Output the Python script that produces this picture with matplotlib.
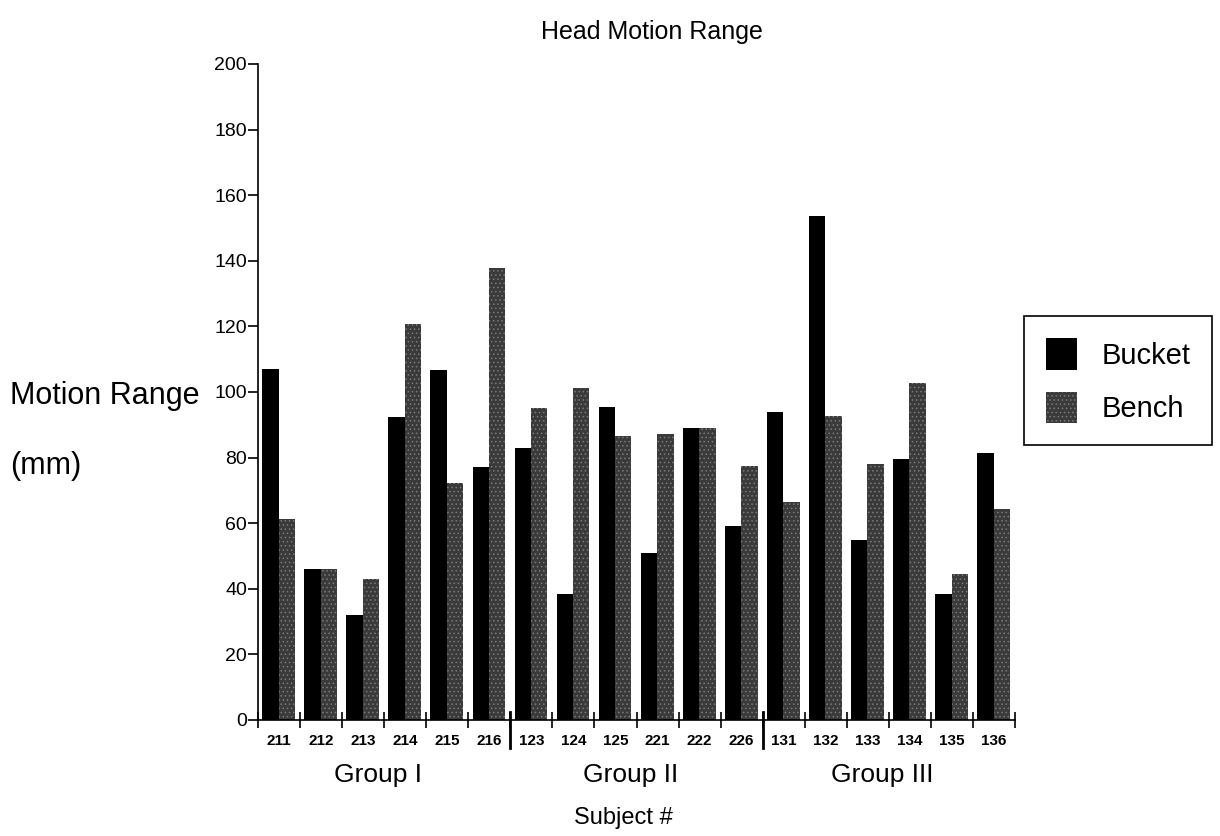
import matplotlib
matplotlib.use("Agg")
import matplotlib.pyplot as plt
import numpy as np

plt.rcParams['font.family'] = ['Liberation Sans', 'DejaVu Sans']
plt.rcParams['hatch.linewidth'] = 0.6

# data
subjects = ['211', '212', '213', '214', '215', '216',
            '123', '124', '125', '221', '222', '226',
            '131', '132', '133', '134', '135', '136']
bucket = [107, 46, 32, 92.5, 106.6, 77,
          83, 38.3, 95.5, 51, 89.1, 59,
          94, 153.6, 55, 79.7, 38.3, 81.4]
bench = [61.2, 46, 43, 120.7, 72.3, 137.8,
         95, 101.2, 86.7, 87.3, 89, 77.5,
         66.3, 92.6, 78, 102.8, 44.5, 64.4]
groups = ['Group I', 'Group II', 'Group III']
group_size = 6

fig = plt.figure(figsize=(12.2, 8.36), dpi=100)
ax = fig.add_axes([0.2115, 0.1388, 0.6205, 0.7847])

x = np.arange(len(subjects))
w = 0.39
ax.bar(x - w / 2 - 0.01, bucket, w, color='black', label='Bucket')
ax.bar(x + w / 2 - 0.01, bench, w, facecolor='#3a3a3a', edgecolor='#7a7a7a',
       linewidth=0, hatch='....', label='Bench')

ax.set_xlim(-0.5, len(subjects) - 0.5)
ax.set_ylim(0, 200)
ax.set_yticks(range(0, 201, 20))
ax.tick_params(axis='y', direction='out', length=7, width=1.2, labelsize=14, pad=1)

# ticks at category edges, labels at centers
ax.set_xticks(np.arange(-0.5, len(subjects), 1))
ax.set_xticklabels([])
ax.tick_params(axis='x', which='major', direction='inout', length=12, width=1.2)
ax.set_xticks(x, minor=True)
ax.set_xticklabels(subjects, minor=True, fontsize=11, fontweight='bold')
ax.tick_params(axis='x', which='minor', length=0, pad=10)

for s in ['top', 'right']:
    ax.spines[s].set_visible(False)
for s in ['left', 'bottom']:
    ax.spines[s].set_linewidth(1.2)

# group separators and labels
trans = ax.get_xaxis_transform()
for k in range(1, len(groups)):
    xb = k * group_size - 0.5
    ax.plot([xb, xb], [0.012, -0.043], color='black', lw=2, transform=trans, clip_on=False)
for k, g in enumerate(groups):
    xc = k * group_size + (group_size - 1) / 2 - 0.15
    ax.text(xc, -0.084, g, transform=trans, ha='center', va='center', fontsize=19)
ax.text((len(subjects) - 1) / 2 - 0.3, -0.149, 'Subject #', transform=trans,
        ha='center', va='center', fontsize=17)

fig.text(652 / 1220, 1 - 32 / 836, 'Head Motion Range', ha='center', va='center', fontsize=18)
fig.text(10 / 1220, 1 - 396 / 836, 'Motion Range', ha='left', va='center', fontsize=22)
fig.text(10 / 1220, 1 - 466 / 836, '(mm)', ha='left', va='center', fontsize=22)

leg = ax.legend(loc='upper left', bbox_to_anchor=(1024 / 1220, 1 - 316 / 836),
                bbox_transform=fig.transFigure, fontsize=21, frameon=True,
                fancybox=False, edgecolor='black', borderaxespad=0,
                handlelength=1.05, handleheight=1.3, handletextpad=0.85,
                labelspacing=0.75, borderpad=0.75)
leg.get_frame().set_linewidth(1.2)
leg.get_frame().set_alpha(1)

fig.savefig('out.png', dpi=100)
